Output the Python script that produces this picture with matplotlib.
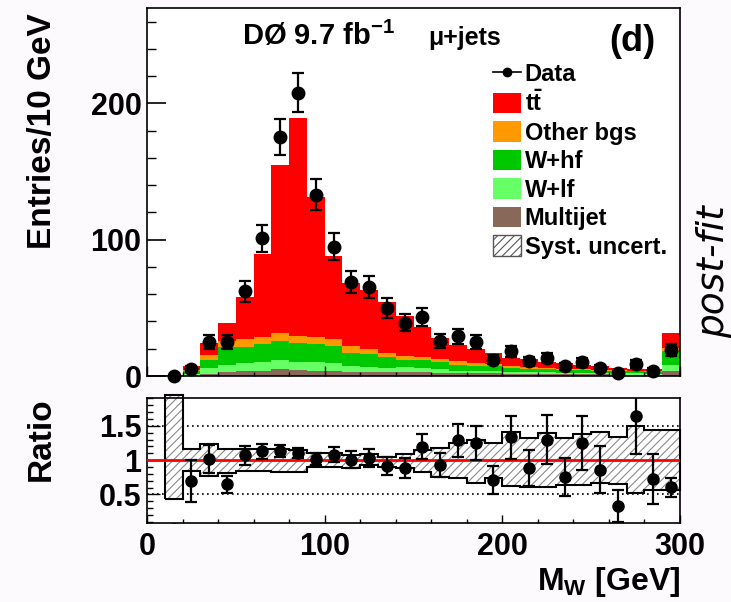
import numpy as np
import matplotlib
matplotlib.use("Agg")
import matplotlib.pyplot as plt
from matplotlib.patches import Patch
from matplotlib.lines import Line2D
from matplotlib.ticker import MultipleLocator, FixedLocator

# ========================
# style
# ========================
plt.rcParams['font.family'] = ['Liberation Sans', 'DejaVu Sans']
plt.rcParams['font.weight'] = 'bold'
plt.rcParams['axes.labelweight'] = 'bold'
plt.rcParams['mathtext.fontset'] = 'custom'
plt.rcParams['mathtext.rm'] = 'Liberation Sans:bold'
plt.rcParams['mathtext.bf'] = 'Liberation Sans:bold'
plt.rcParams['mathtext.it'] = 'Liberation Sans:bold:italic'
plt.rcParams['hatch.linewidth'] = 0.8

# ========================
# histograms (10 GeV bins, 0-300 GeV)
# ========================
edges = np.arange(0, 310, 10)
centers = edges[:-1] + 5

data = np.array([np.nan, 0, 5, 25, 25, 62, 101, 175, 208, 133, 95, 69, 65, 50, 39,
                 43, 26, 29, 25, 12, 18, 11, 13, 7, 10, 6, 2, 9, 4, 19])
data_err = np.array([np.nan, 0, 2.2, 5.0, 5.0, 7.9, 10.0, 13.2, 14.4, 11.5, 9.7, 8.3, 8.1, 7.1, 6.2,
                     6.6, 5.1, 5.4, 5.0, 3.5, 4.2, 3.3, 3.6, 2.6, 3.2, 2.4, 1.4, 3.0, 2.0, 4.4])

multijet = np.array([0, 0, 0.3, 1.5, 2.8, 3.5, 4.0, 4.8, 4.5, 3.5, 3.5, 3.3, 3.3, 3.0, 3.0,
                     2.8, 2.5, 2.3, 2.0, 2.0, 1.5, 1.5, 1.4, 1.3, 1.2, 1.2, 1.1, 1.0, 1.0, 4.0])
w_lf = np.array([0.2, 0.3, 1.0, 4.2, 5.6, 5.8, 6.6, 6.7, 6.0, 7.0, 6.4, 3.9, 3.4, 3.0, 3.3,
                 2.9, 2.3, 1.7, 1.5, 1.5, 1.3, 1.3, 1.2, 1.2, 1.1, 1.0, 0.9, 1.0, 0.8, 4.4])
w_hf = np.array([0.4, 0.6, 2.2, 6.4, 12.7, 12.3, 12.8, 14.0, 13.9, 12.9, 12.3, 9.7, 9.7, 8.2, 5.8,
                 6.4, 5.3, 4.4, 4.2, 4.0, 2.9, 2.7, 2.4, 2.0, 1.9, 1.8, 1.7, 1.5, 1.4, 10.3])
other_bgs = np.array([0, 0, 0.8, 3.4, 4.9, 5.4, 5.2, 6.0, 5.1, 5.4, 5.0, 4.9, 3.7, 3.0, 2.9,
                      2.2, 2.5, 2.5, 1.7, 1.4, 1.3, 1.1, 1.0, 1.0, 0.8, 0.6, 0.6, 0.5, 0.5, 1.9])
ttbar = np.array([0, 0, 2.9, 9.0, 12.7, 31.0, 60.9, 123.0, 159.5, 102.2, 60.8, 46.7, 42.9, 37.3, 29.0,
                  21.7, 15.4, 11.6, 10.6, 8.1, 6.5, 5.9, 4.0, 3.8, 3.0, 2.4, 1.7, 1.5, 1.8, 10.9])

# systematic band on the ratio (upper / lower edge)
syst_hi = np.array([np.nan, 1.956, 1.155, 1.233, 1.155, 1.155, 1.155, 1.155, 1.15, 1.10, 1.10,
                    1.073, 1.083, 1.049, 1.083, 1.146, 1.18, 1.243, 1.29, 1.243, 1.41, 1.325,
                    1.388, 1.325, 1.374, 1.403, 1.34, 1.50, 1.437, 1.437])
syst_lo = np.array([np.nan, 0.44, 0.84, 0.77, 0.806, 0.84, 0.84, 0.82, 0.83, 0.90, 0.90,
                    0.879, 0.927, 0.903, 0.879, 0.82, 0.757, 0.733, 0.66, 0.743, 0.62, 0.612,
                    0.612, 0.636, 0.636, 0.66, 0.65, 0.515, 0.563, 0.563])

layers = [
    (multijet, "#886858", "Multijet"),
    (w_lf, "#66ff66", "W+lf"),
    (w_hf, "#00c800", "W+hf"),
    (other_bgs, "#ff9900", "Other bgs"),
    (ttbar, "#ff0000", r"t$\bar{\mathrm{t}}$"),
]

# ========================
# figure
# ========================
W, H = 731, 602
fig = plt.figure(figsize=(W / 100, H / 100), dpi=100, facecolor="#fdfafd")
ax = fig.add_axes([147 / W, 1 - 376 / H, 533 / W, 368 / H])
rax = fig.add_axes([147 / W, 1 - 522.5 / H, 533 / W, 124.8 / H])

# --- stacked MC ---
base = np.zeros(len(centers))
for vals, col, lab in layers:
    top = base + vals
    ax.stairs(top, edges, baseline=base, fill=True, color=col, lw=0)
    base = top
mc = base

# --- data ---
eb = ax.errorbar(centers, data, yerr=data_err, fmt="o", color="black", ms=9,
                 elinewidth=1.6, capsize=4, capthick=1.6, zorder=5)
for art in [eb[0], *eb[1], *eb[2]]:
    art.set_clip_on(False)

ax.set_xlim(0, 300)
ax.set_ylim(0, 270)
ax.yaxis.set_major_locator(FixedLocator([0, 100, 200]))
ax.yaxis.set_minor_locator(MultipleLocator(20))
ax.xaxis.set_major_locator(MultipleLocator(100))
ax.xaxis.set_minor_locator(MultipleLocator(20))
ax.tick_params(axis="y", which="major", direction="in", length=13.5, width=1.2,
               labelsize=22, pad=4)
ax.tick_params(axis="y", which="minor", direction="in", length=6.5, width=1.0)
ax.tick_params(axis="x", which="major", direction="in", length=7, width=1.0,
               labelbottom=False)
ax.tick_params(axis="x", which="minor", direction="in", length=3, width=1.0)
for sp in ax.spines.values():
    sp.set_linewidth(1.2)
ax.set_ylabel("Entries/10 GeV", fontsize=24, loc="top")
ax.yaxis.set_label_coords(-0.167, 0.986)

ax.text(0.178, 0.899, r"DØ 9.7 fb$^{-1}$", transform=ax.transAxes, fontsize=21)
ax.text(0.527, 0.899, "μ+jets", transform=ax.transAxes, fontsize=18)
ax.text(0.91, 0.908, "(d)", transform=ax.transAxes, fontsize=26,
        ha="center", va="center")

handles = [Line2D([], [], color="black", marker="o", ms=6, lw=1.2)]
labels = ["Data"]
for vals, col, lab in reversed(layers):
    handles.append(Patch(facecolor=col, edgecolor="none"))
    labels.append(lab)
handles.append(Patch(facecolor="white", edgecolor="#555555", hatch="////", lw=1.0))
labels.append("Syst. uncert.")
ax.legend(handles, labels, loc="upper left", bbox_to_anchor=(0.64, 0.865),
          frameon=False, fontsize=17, handlelength=1.2, handleheight=0.95,
          labelspacing=0.22, handletextpad=0.15, borderpad=0.2, borderaxespad=0)

# --- ratio panel ---
ratio = data / mc
ratio_err = data_err / mc

rax.axhline(0.5, color="black", ls=(0, (1, 2)), lw=1.2, zorder=1)
rax.axhline(1.5, color="black", ls=(0, (1, 2)), lw=1.2, zorder=1)
rax.stairs(syst_hi[1:], edges[1:], baseline=syst_lo[1:], fill=True, facecolor="white",
           edgecolor="#8a8a8a", hatch="////", lw=0, zorder=2, clip_on=False)
rax.stairs(syst_hi[1:], edges[1:], baseline=syst_lo[1:], fill=False, color="black",
           lw=1.5, zorder=2.5, clip_on=False)
rax.axhline(1.0, color="red", lw=2, zorder=3)
rax.errorbar(centers, ratio, yerr=ratio_err, fmt="o", color="black", ms=8,
             elinewidth=1.6, capsize=4, capthick=1.6, zorder=4)

rax.set_xlim(0, 300)
rax.set_ylim(0.09, 1.91)
rax.yaxis.set_major_locator(FixedLocator([0.5, 1.0, 1.5]))
rax.set_yticklabels(["0.5", "1", "1.5"])
rax.yaxis.set_minor_locator(MultipleLocator(0.1))
rax.xaxis.set_major_locator(MultipleLocator(100))
rax.xaxis.set_minor_locator(MultipleLocator(20))
rax.tick_params(axis="y", which="major", direction="in", length=9, width=1.0,
                labelsize=22, pad=4)
rax.tick_params(axis="y", which="minor", direction="in", length=4.5, width=1.0)
rax.tick_params(axis="x", which="major", direction="in", length=6, width=1.0,
                labelsize=22, pad=7)
rax.tick_params(axis="x", which="minor", direction="in", length=3, width=1.0)
for sp in rax.spines.values():
    sp.set_linewidth(1.2)
rax.set_ylabel("Ratio", fontsize=24, loc="top")
rax.yaxis.set_label_coords(-0.169, 1.0)
rax.set_xlabel(r"M$_{\mathrm{W}}$ [GeV]", fontsize=23, loc="right", labelpad=2)

fig.text(714 / W, 1 - 272 / H, "post-fit", rotation=90, ha="center", va="center",
         fontsize=27, style="italic", weight="normal", family="DejaVu Sans")

fig.savefig("out.png", dpi=100, facecolor=fig.get_facecolor())
